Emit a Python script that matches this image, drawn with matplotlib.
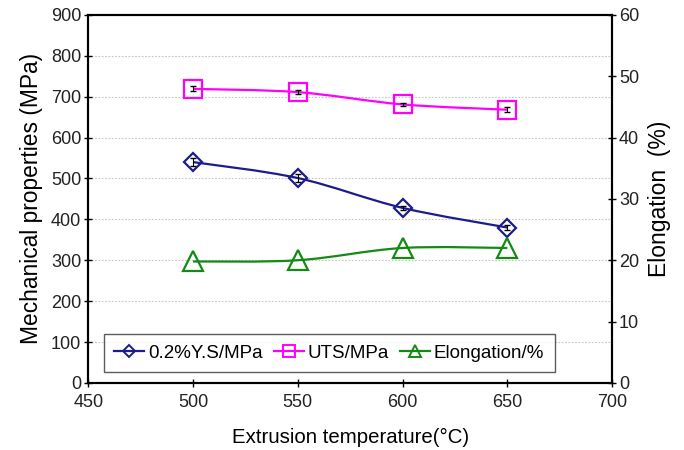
import numpy as np
import matplotlib.pyplot as plt
from matplotlib.path import Path
from matplotlib.patches import PathPatch

plt.rcParams['font.family'] = ['Liberation Sans', 'DejaVu Sans']

temps = [500, 550, 600, 650]
ys = [540, 501, 428, 380]
ys_err = [10, 9, 5, 6]
uts = [719, 711, 681, 668]
uts_err = [6, 5, 3, 6]
elong = [19.8, 20.0, 22.0, 22.0]

blue = '#1c1c8a'
pink = '#ff00ff'
green = '#138a13'


def smooth_path(x, y, tension=1/6):
    # Bezier segments through the points, like Excel's smoothed line
    x = np.asarray(x, float)
    y = np.asarray(y, float)
    n = len(x)
    verts = [(x[0], y[0])]
    codes = [Path.MOVETO]
    for i in range(n - 1):
        p0 = i - 1 if i > 0 else i
        p3 = i + 2 if i + 2 < n else i + 1
        c1 = (x[i] + (x[i + 1] - x[p0]) * tension, y[i] + (y[i + 1] - y[p0]) * tension)
        c2 = (x[i + 1] - (x[p3] - x[i]) * tension, y[i + 1] - (y[p3] - y[i]) * tension)
        verts += [c1, c2, (x[i + 1], y[i + 1])]
        codes += [Path.CURVE4] * 3
    return Path(verts, codes)


fig, ax = plt.subplots(figsize=(6.84, 4.5), dpi=100)
fig.subplots_adjust(left=0.129, right=0.895, bottom=0.149, top=0.967)
ax2 = ax.twinx()

ax.set_xlim(450, 700)
ax.set_ylim(0, 900)
ax2.set_ylim(0, 60)
ax.set_xticks(range(450, 701, 50))
ax.set_yticks(range(0, 901, 100))
ax2.set_yticks(range(0, 61, 10))

for y in range(100, 900, 100):
    ax.axhline(y, color='#c4c4c4', lw=0.8, ls=(0, (1.5, 1.5)), zorder=0)

# smoothed lines
ax.add_patch(PathPatch(smooth_path(temps, ys), fc='none', ec=blue, lw=1.6, zorder=2))
ax.add_patch(PathPatch(smooth_path(temps, uts), fc='none', ec=pink, lw=1.6, zorder=2))
ax2.add_patch(PathPatch(smooth_path(temps, elong), fc='none', ec=green, lw=1.6, zorder=2))

# markers and error bars
ax.errorbar(temps, ys, yerr=ys_err, fmt='none', ecolor='black', elinewidth=0.8, capsize=2, zorder=3)
ax.errorbar(temps, uts, yerr=uts_err, fmt='none', ecolor='black', elinewidth=0.8, capsize=2, zorder=3)
ax.plot(temps, ys, ls='none', marker='D', ms=9.5, mfc='none', mec=blue, mew=1.6, zorder=4)
ax.plot(temps, uts, ls='none', marker='s', ms=13, mfc='none', mec=pink, mew=1.6, zorder=4)
ax2.plot(temps, elong, ls='none', marker='^', ms=14, mfc='none', mec=green, mew=1.6, zorder=4)

# legend proxies
h1, = ax.plot([], [], color=blue, lw=1.6, marker='D', ms=6, mfc='none', mec=blue, mew=1.4)
h2, = ax.plot([], [], color=pink, lw=1.6, marker='s', ms=8, mfc='none', mec=pink, mew=1.4)
h3, = ax.plot([], [], color=green, lw=1.6, marker='^', ms=9, mfc='none', mec=green, mew=1.4)
leg = ax2.legend([h1, h2, h3], ['0.2%Y.S/MPa', 'UTS/MPa', 'Elongation/%'],
                 loc='lower left', bbox_to_anchor=(0.03, 0.03, 0.86, 0.13), mode='expand',
                 ncol=3, fontsize=13.5, frameon=True, fancybox=False, handlelength=1.6,
                 handletextpad=0.2, columnspacing=0.6, borderaxespad=0, borderpad=0.55)
leg.get_frame().set_edgecolor('#333333')
leg.get_frame().set_linewidth(1.0)

for a in (ax, ax2):
    for s in a.spines.values():
        s.set_linewidth(1.5)
        s.set_color('black')
    a.tick_params(direction='inout', length=6, width=1, labelsize=13, labelcolor='#222222', pad=2)
ax.tick_params(axis='x', pad=5)

ax.set_xlabel('Extrusion temperature(\u00b0C)', fontsize=14.7, labelpad=12)
ax.set_ylabel('Mechanical properties (MPa)', fontsize=16.4, labelpad=6)
ax2.set_ylabel('Elongation  (%)', fontsize=16.5, labelpad=6)

fig.savefig('out.png', dpi=100)
